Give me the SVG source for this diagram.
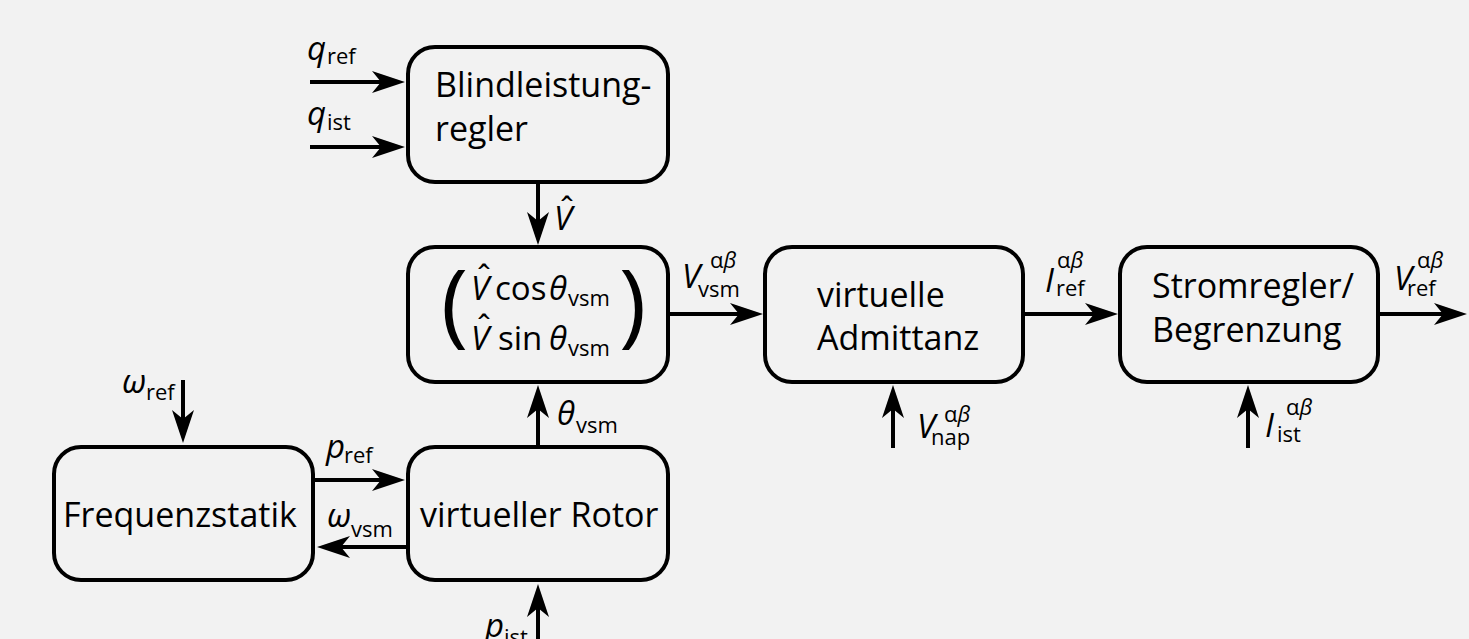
<svg xmlns="http://www.w3.org/2000/svg" width="1469" height="639" viewBox="0 0 1469 639">
<style>
.bg{fill:#f2f2f2}
.box{fill:none;stroke:#000;stroke-width:4}
.c{fill:none;stroke:#000;stroke-width:4;marker-end:url(#ah)}
text{font-family:"Open Sans","Noto Sans",sans-serif;fill:#000}
.t{font-size:34px}
.f{font-size:33px}
.m{font-size:33px;font-style:italic}
.s{font-size:22px}
.si{font-size:22px;font-style:italic}
.hat{font-size:34px}
.par{font-size:92px}
</style>
<defs>
<marker id="ah" markerUnits="userSpaceOnUse" markerWidth="40" markerHeight="30" viewBox="-36 -15 40 30" refX="-10" refY="0" orient="auto">
<path d="M0,0 L-33,-11 L-24,0 L-33,11 Z" fill="#000"/>
</marker>
</defs>
<rect class="bg" x="0" y="0" width="1469" height="639"/>

<g id="connectors">
<line class="c" x1="310" y1="82" x2="395" y2="82"/>
<line class="c" x1="310" y1="147" x2="395" y2="147"/>
<line class="c" x1="538" y1="182" x2="538" y2="235"/>
<line class="c" x1="668" y1="314" x2="753" y2="314"/>
<line class="c" x1="1023" y1="314" x2="1108" y2="314"/>
<line class="c" x1="1378" y1="314" x2="1457" y2="314"/>
<line class="c" x1="893" y1="448" x2="893" y2="395"/>
<line class="c" x1="1248" y1="448" x2="1248" y2="395"/>
<line class="c" x1="538" y1="447" x2="538" y2="395"/>
<line class="c" x1="183" y1="380" x2="183" y2="433"/>
<line class="c" x1="313" y1="480" x2="395" y2="480"/>
<line class="c" x1="408" y1="547" x2="327" y2="547"/>
<line class="c" x1="538" y1="639" x2="538" y2="594"/>
</g>

<g id="labels">
<text class="m" x="307" y="60">q</text><text class="s" x="327" y="64">ref</text>
<text class="m" x="307" y="125">q</text><text class="s" x="327" y="130">ist</text>
<text class="hat" x="560" y="222">ˆ</text><text class="m" x="554" y="230">V</text>
<text class="m" x="682" y="288">V</text><text class="s" x="698" y="297">vsm</text><text class="s" x="710" y="268">α<tspan class="si">β</tspan></text>
<text class="m" x="1045" y="292">I</text><text class="s" x="1056" y="296">ref</text><text class="s" x="1057" y="268">α<tspan class="si">β</tspan></text>
<text class="m" x="1394" y="290">V</text><text class="s" x="1407" y="296">ref</text><text class="s" x="1417" y="268">α<tspan class="si">β</tspan></text>
<text class="m" x="917" y="438">V</text><text class="s" x="931" y="445">nap</text><text class="s" x="944" y="422">α<tspan class="si">β</tspan></text>
<text class="m" x="1265" y="437">I</text><text class="s" x="1277" y="442">ist</text><text class="s" x="1286" y="415">α<tspan class="si">β</tspan></text>
<text class="m" x="557" y="425">θ</text><text class="s" x="576" y="433">vsm</text>
<text class="m" x="122" y="393">ω</text><text class="s" x="146" y="400">ref</text>
<text class="m" x="326" y="458">p</text><text class="s" x="344" y="463">ref</text>
<text class="m" x="327" y="527">ω</text><text class="s" x="351" y="537">vsm</text>
<text class="m" x="485" y="637">p</text><text class="s" x="504" y="645">ist</text>
</g>

<g id="blindleistungregler">
<rect class="box" x="408" y="47" width="260" height="135" rx="27"/>
<text class="t" x="435" y="97">Blindleistung-</text>
<text class="t" x="435" y="141">regler</text>
</g>

<g id="formel">
<rect class="box" x="408" y="247" width="260" height="135" rx="27"/>
<text class="par" x="441" y="335">(</text>
<text class="par" x="619" y="335">)</text>
<text class="hat" x="477" y="290">ˆ</text><text class="m" x="471" y="300">V</text>
<text class="f" x="495" y="300">cos</text>
<text class="m" x="549" y="300">θ</text><text class="s" x="568" y="306">vsm</text>
<text class="hat" x="477" y="340">ˆ</text><text class="m" x="471" y="350">V</text>
<text class="f" x="498" y="350">sin</text>
<text class="m" x="549" y="350">θ</text><text class="s" x="568" y="356">vsm</text>
</g>

<g id="admittanz">
<rect class="box" x="765" y="247" width="258" height="135" rx="27"/>
<text class="t" x="817" y="307">virtuelle</text>
<text class="t" x="817" y="350">Admittanz</text>
</g>

<g id="stromregler">
<rect class="box" x="1120" y="247" width="258" height="135" rx="27"/>
<text class="t" x="1152" y="298">Stromregler/</text>
<text class="t" x="1152" y="342">Begrenzung</text>
</g>

<g id="frequenzstatik">
<rect class="box" x="54" y="447" width="259" height="133" rx="27"/>
<text class="t" x="63" y="527">Frequenzstatik</text>
</g>

<g id="rotor">
<rect class="box" x="408" y="447" width="260" height="133" rx="27"/>
<text class="t" x="420" y="527">virtueller Rotor</text>
</g>
</svg>
